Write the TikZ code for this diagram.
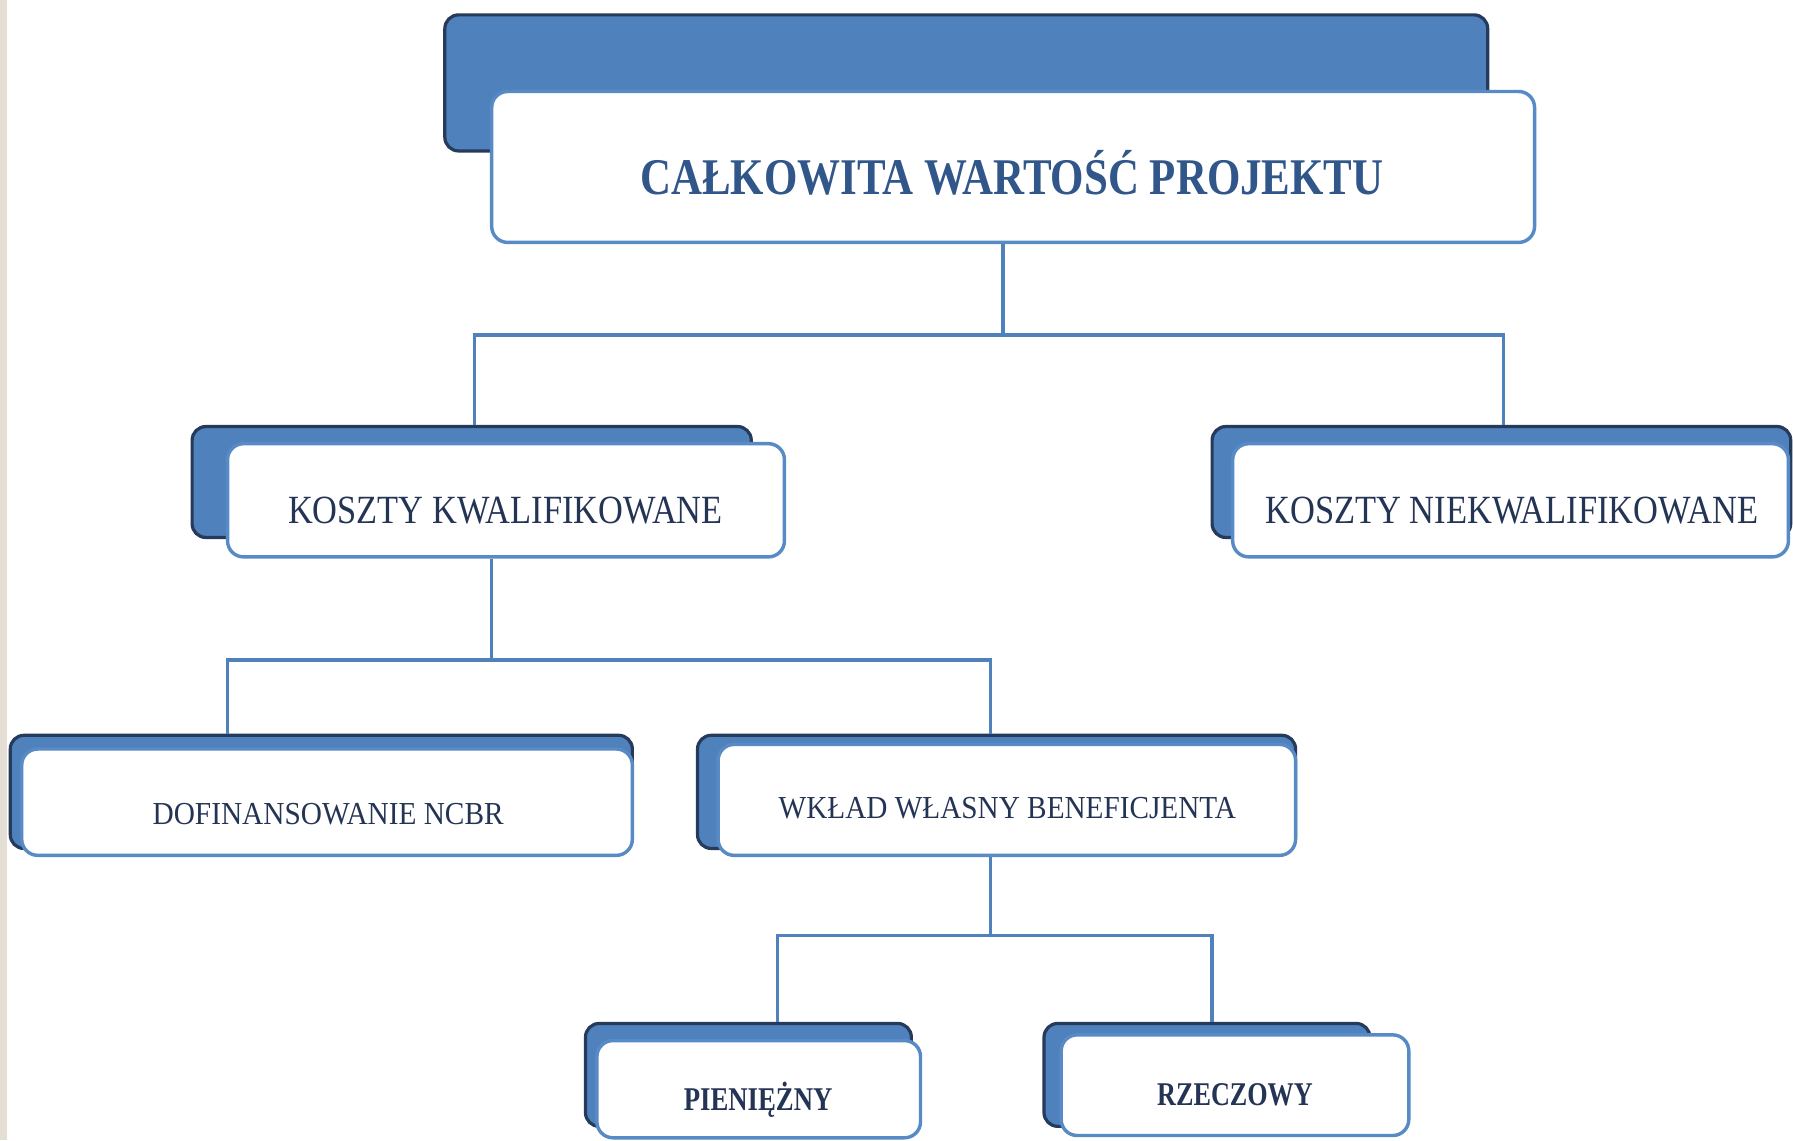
\documentclass[tikz,border=0pt]{standalone}
\usepackage{fontspec}
\setmainfont{Liberation Serif}
\usepackage{graphicx}
\usetikzlibrary{fit}
\definecolor{bblue}{RGB}{79,129,189}
\definecolor{fblue}{RGB}{88,138,198}
\definecolor{navy}{RGB}{38,58,92}
\definecolor{titlec}{RGB}{48,86,138}
\definecolor{txtc}{RGB}{36,52,84}
\definecolor{beige}{RGB}{228,222,213}
\newcommand{\fitw}[2]{\resizebox{#1}{\height}{#2}}
\begin{document}
\begin{tikzpicture}[x=0.5pt,y=-0.5pt,
  backbox/.style={draw=navy,line width=1.4pt,fill=bblue,rounded corners=6pt,inner sep=0pt},
  frontbox/.style={draw=fblue,line width=1.5pt,fill=white,rounded corners=7pt,inner sep=0pt},
  conn/.style={draw=bblue,line width=1.5pt},
  lbl/.style={anchor=base,inner sep=0pt,text=txtc}]
\useasboundingbox (0,0) rectangle (1568,997);
\fill[white] (0,0) rectangle (1568,997);
\fill[beige] (0,0) rectangle (6,997);
% connectors (drawn first)
\coordinate (j1) at (877,293);
\coordinate (j2) at (430,577);
\coordinate (j3) at (866,818);
% top
\node[backbox,fit={(389,13) (1301,132)}] (topb) {};
\node[frontbox,fit={(430,80) (1342,212)}] (top) {};
% level 2
\node[backbox,fit={(168,373) (657,470)}] (kkb) {};
\node[frontbox,fit={(199,388) (686,487)}] (kk) {};
\node[backbox,fit={(1060,373) (1566,470)}] (knb) {};
\node[frontbox,fit={(1078,388) (1564,487)}] (kn) {};
% level 3
\node[backbox,fit={(9,643) (553,742)}] (dofb) {};
\node[frontbox,fit={(19,655) (553,748)}] (dof) {};
\node[backbox,fit={(610,643) (1133,742)}] (wwbb) {};
\node[frontbox,fit={(628,651) (1133,748)}] (wwb) {};
% level 4
\node[backbox,fit={(512,895) (797,985)}] (pieb) {};
\node[frontbox,fit={(522,910) (805,995)}] (pie) {};
\node[backbox,fit={(913,895) (1198,985)}] (rzeb) {};
\node[frontbox,fit={(928,905) (1232,993)}] (rze) {};
% connectors
\draw[conn] (top.south -| j1) -- (j1);
\draw[conn] (kkb.north -| 415,0) |- (j1) -| (knb.north -| 1315,0);
\draw[conn] (kk.south -| j2) -- (j2);
\draw[conn] (dofb.north -| 199,0) |- (j2) -| (wwbb.north -| 866,0);
\draw[conn] (wwb.south -| j3) -- (j3);
\draw[conn] (pieb.north -| 680,0) |- (j3) -| (rzeb.north -| 1060,0);
% labels
\node[lbl,text=titlec,font=\fontsize{22.5}{26}\selectfont\bfseries] (topt) at (885,170) {\fitw{325pt}{CAŁKOWITA WARTOŚĆ PROJEKTU}};
\node[lbl,font=\fontsize{17.5}{21}\selectfont] (kkt) at (442,458) {\fitw{190pt}{KOSZTY KWALIFIKOWANE}};
\node[lbl,font=\fontsize{17.5}{21}\selectfont] (knt) at (1322,458) {\fitw{215.5pt}{KOSZTY NIEKWALIFIKOWANE}};
\node[lbl,font=\fontsize{14}{17}\selectfont] (doft) at (287,721) {\fitw{153.5pt}{DOFINANSOWANIE NCBR}};
\node[lbl,font=\fontsize{14}{17}\selectfont] (wwbt) at (881,716) {\fitw{200pt}{WKŁAD WŁASNY BENEFICJENTA}};
\node[lbl,font=\fontsize{14.5}{17}\selectfont\bfseries] (piet) at (663,971) {\fitw{65pt}{PIENIĘŻNY}};
\node[lbl,font=\fontsize{14.5}{17}\selectfont\bfseries] (rzet) at (1080,967) {\fitw{68pt}{RZECZOWY}};
\end{tikzpicture}
\end{document}
